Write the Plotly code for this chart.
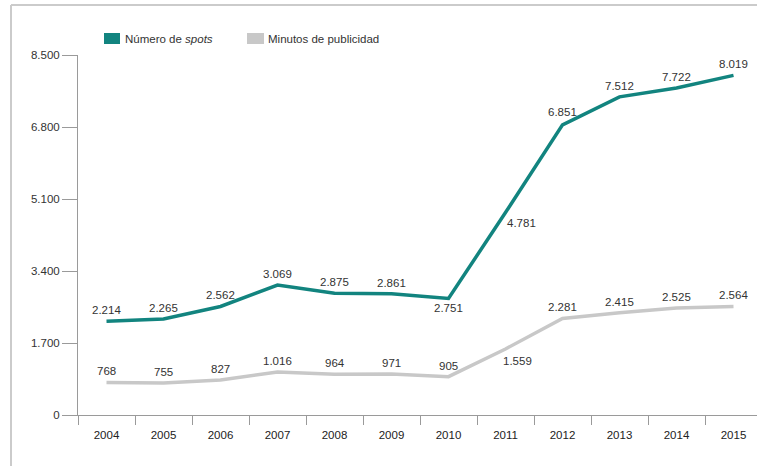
import plotly.graph_objects as go

# Data
years = ["2004", "2005", "2006", "2007", "2008", "2009",
         "2010", "2011", "2012", "2013", "2014", "2015"]
spots = [2214, 2265, 2562, 3069, 2875, 2861, 2751, 4781, 6851, 7512, 7722, 8019]
minutos = [768, 755, 827, 1016, 964, 971, 905, 1559, 2281, 2415, 2525, 2564]
y_ticks = [0, 1700, 3400, 5100, 6800, 8500]
y_tick_labels = ["0", "1.700", "3.400", "5.100", "6.800", "8.500"]

TEAL = "#12847f"
GRAY = "#c8c8c8"
TEXT = "#333333"
AXIS = "#9a9a9a"
FONT = "Liberation Sans, Arial, sans-serif"
FS = 11.5

W, H = 757, 466
L, T, B = 78, 55, 51
PW, PH = W - L, H - T - B


def px_x(x):
    return (x - L) / PW


def px_y(y):
    return (H - B - y) / PH


def fmt(v):
    return f"{v:,}".replace(",", ".")


fig = go.Figure()
fig.add_trace(go.Scatter(x=years, y=minutos, mode="lines",
                         line=dict(color=GRAY, width=3.5), name="Minutos de publicidad"))
fig.add_trace(go.Scatter(x=years, y=spots, mode="lines",
                         line=dict(color=TEAL, width=3.5), name="Número de spots"))

# value labels (default: centred above the point); x given as category index
special_spots = {"2010": (0, -10), "2011": (16, -10), "2012": (0, 13)}
special_min = {"2011": (12, -12)}
annotations = []
for series, special in ((spots, special_spots), (minutos, special_min)):
    for i, (yr, v) in enumerate(zip(years, series)):
        dx, dy = special.get(yr, (0, 11))
        annotations.append(dict(x=i, y=v, xref="x", yref="y", text=fmt(v), showarrow=False,
                                xshift=dx, yshift=dy, xanchor="center", yanchor="middle",
                                font=dict(family=FONT, size=FS, color=TEXT)))

# legend
shapes = [
    dict(type="rect", xref="paper", yref="paper",
         x0=px_x(104), x1=px_x(120), y0=px_y(44), y1=px_y(33),
         fillcolor=TEAL, line=dict(width=0)),
    dict(type="rect", xref="paper", yref="paper",
         x0=px_x(247), x1=px_x(264), y0=px_y(44), y1=px_y(33),
         fillcolor=GRAY, line=dict(width=0)),
    # frame
    dict(type="line", xref="paper", yref="paper",
         x0=px_x(11), x1=px_x(W + 5), y0=px_y(5), y1=px_y(5),
         line=dict(color="#cbcbcb", width=2)),
    dict(type="line", xref="paper", yref="paper",
         x0=px_x(11), x1=px_x(11), y0=px_y(5), y1=px_y(H + 5),
         line=dict(color="#cbcbcb", width=2)),
]
annotations += [
    dict(xref="paper", yref="paper", x=px_x(123), y=px_y(39),
         text="Número de <i>spots</i>", showarrow=False, xanchor="left", yanchor="middle",
         font=dict(family=FONT, size=FS, color=TEXT)),
    dict(xref="paper", yref="paper", x=px_x(266), y=px_y(39),
         text="Minutos de publicidad", showarrow=False, xanchor="left", yanchor="middle",
         font=dict(family=FONT, size=FS, color=TEXT)),
]

fig.update_layout(
    width=W, height=H,
    margin=dict(l=L, r=0, t=T, b=B, pad=0),
    paper_bgcolor="white", plot_bgcolor="white",
    showlegend=False,
    font=dict(family=FONT, size=FS, color=TEXT),
    shapes=shapes, annotations=annotations,
)
fig.update_xaxes(
    type="category", range=[-0.5, 11.5 - 5 / 57], showgrid=False,
    showline=True, linecolor=AXIS, linewidth=1,
    ticks="outside", tickson="boundaries", ticklen=9, tickcolor=AXIS,
    ticklabelstandoff=9, tickfont=dict(family=FONT, size=FS, color="#222222"),
)
fig.update_yaxes(
    range=[0, 8500], tickvals=y_ticks, ticktext=y_tick_labels, showgrid=False,
    zeroline=False, showline=True, linecolor=AXIS, linewidth=1,
    ticks="outside", ticklen=15, tickcolor=AXIS, ticklabelstandoff=0,
    tickfont=dict(family=FONT, size=FS, color=TEXT),
)

fig.write_html("out.html")
